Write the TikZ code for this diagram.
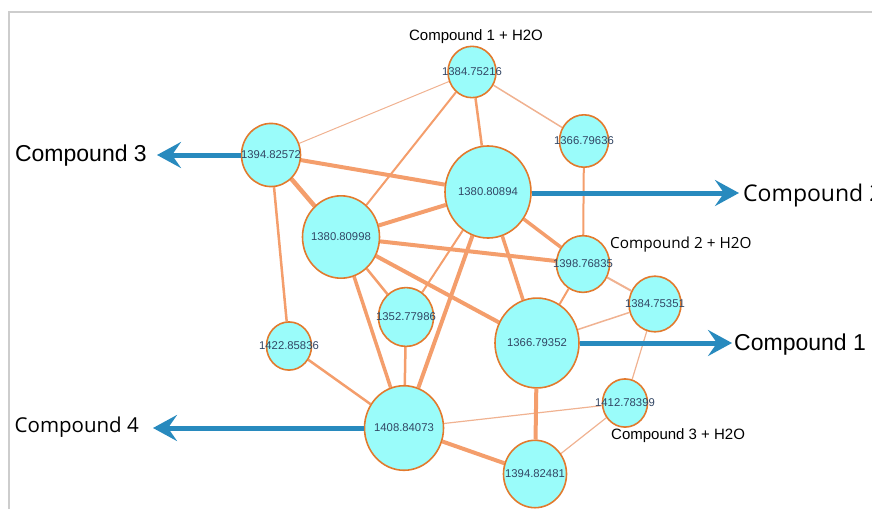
\documentclass[tikz,border=0pt]{standalone}
\usepackage{fontspec}
\setmainfont{Liberation Sans}
\newfontfamily\segoe{Open Sans}
\usetikzlibrary{arrows.meta,backgrounds,shapes.geometric}
\definecolor{nodefill}{RGB}{154,252,250}
\definecolor{nodeline}{RGB}{226,122,45}
\definecolor{edgecol}{RGB}{244,158,108}
\definecolor{edgelight}{RGB}{240,178,145}
\definecolor{arrowcol}{RGB}{40,138,190}
\definecolor{numcol}{RGB}{50,70,100}
\definecolor{framecol}{RGB}{205,205,205}
\tikzset{
  mz/.style={ellipse, draw=nodeline, line width=1.6pt, fill=nodefill, inner sep=0pt,
    minimum width=#1, minimum height=1.07*#1},
  numl/.style={inner sep=0pt, text=numcol, font=\fontsize{11.3}{13}\selectfont},
  edge/.style={draw=edgecol, line width=#1},
  edgel/.style={draw=edgelight, line width=#1},
  outarrow/.style={draw=arrowcol, line width=5pt,
    -{Stealth[length=24pt,width=26pt,inset=9pt]}},
  biglabel/.style={inner sep=0pt, font=\fontsize{23}{26}\selectfont},
  biglabelsg/.style={inner sep=0pt, font=\segoe\fontsize{20.5}{24}\selectfont},
  smalllabel/.style={inner sep=0pt, font=\fontsize{15}{18}\selectfont},
  smalllabelsg/.style={inner sep=0pt, font=\segoe\fontsize{15.3}{18}\selectfont}
}
\begin{document}
\begin{tikzpicture}[x=1pt,y=-1pt]
\useasboundingbox (0,0) rectangle (872,509);
% frame
\draw[framecol, line width=1.5pt] (9,509) -- (9,12) -- (872,12);

% nodes
\node[mz=48pt, label={[numl]center:1384.75216}] (A) at (472,72) {};
\node[mz=49pt, label={[numl]center:1366.79636}] (B) at (584,141) {};
\node[mz=59pt, label={[numl]center:1394.82572}] (C) at (271,155) {};
\node[mz=86pt, label={[numl]center:1380.80894}] (D) at (488,192) {};
\node[mz=77pt, label={[numl]center:1380.80998}] (E) at (341,237) {};
\node[mz=53pt, label={[numl]center:1398.76835}] (F) at (583,264) {};
\node[mz=52pt, label={[numl]center:1384.75351}] (G) at (655,304) {};
\node[mz=55pt, label={[numl]center:1352.77986}] (H) at (406,317) {};
\node[mz=84pt, label={[numl]center:1366.79352}] (I) at (537,343) {};
\node[mz=45pt, label={[numl]center:1422.85836}] (J) at (289,346) {};
\node[mz=79pt, label={[numl]center:1408.84073}] (K) at (404,428) {};
\node[mz=45pt, label={[numl]center:1412.78399}] (L) at (625,403) {};
\node[mz=63pt, label={[numl]center:1394.82481}] (M) at (535,474) {};

% edges
\begin{scope}[on background layer]
\draw[edgel=1pt] (A) -- (C);
\draw[edge=2pt] (A) -- (E);
\draw[edge=2.5pt] (A) -- (D);
\draw[edgel=1.5pt] (A) -- (B);
\draw[edge=2pt] (B) -- (F);
\draw[edge=4pt] (C) -- (D);
\draw[edge=4.5pt] (C) -- (E);
\draw[edge=2.5pt] (C) -- (J);
\draw[edge=4pt] (D) -- (E);
\draw[edge=4pt] (E) -- (F);
\draw[edge=3.5pt] (D) -- (F);
\draw[edge=2pt] (D) -- (H);
\draw[edge=4pt] (D) -- (K);
\draw[edge=3.5pt] (D) -- (I);
\draw[edge=2.5pt] (E) -- (H);
\draw[edge=3.5pt] (E) -- (K);
\draw[edge=4pt] (E) -- (I);
\draw[edge=2pt] (F) -- (I);
\draw[edgel=2pt] (F) -- (G);
\draw[edgel=1.5pt] (G) -- (I);
\draw[edgel=1.2pt] (G) -- (L);
\draw[edge=2.5pt] (H) -- (K);
\draw[edge=2.5pt] (J) -- (K);
\draw[edgel=1.2pt] (K) -- (L);
\draw[edge=4pt] (K) -- (M);
\draw[edge=4pt] (I) -- (M);
\draw[edgel=1.2pt] (L) -- (M);
\end{scope}

% labels
\node[smalllabel] (h1) at (476,37) {Compound 1 + H2O};
\node[smalllabelsg, anchor=west] (h2) at (610,245) {Compound 2 + H2O};
\node[smalllabel, anchor=west] (h3) at (611,436) {Compound 3 + H2O};
\node[biglabel, anchor=east] (c3) at (147,156) {Compound 3};
\node[biglabelsg, anchor=east] (c4) at (139,427) {Compound 4};
\node[biglabelsg, font=\segoe\fontsize{23}{26}\selectfont, anchor=west] (c2) at (743,196) {Compound 2};
\node[biglabel, anchor=west] (c1) at (734,345) {Compound 1};

% output arrows
\coordinate (t3) at (157,155);
\coordinate (t2) at (739,193);
\coordinate (t1) at (732,343);
\coordinate (t4) at (153,428);
\draw[outarrow] (C) -- (t3);
\draw[outarrow] (D.east |- t2) -- (t2);
\draw[outarrow] (I) -- (t1);
\draw[outarrow] (K) -- (t4);
\end{tikzpicture}
\end{document}
